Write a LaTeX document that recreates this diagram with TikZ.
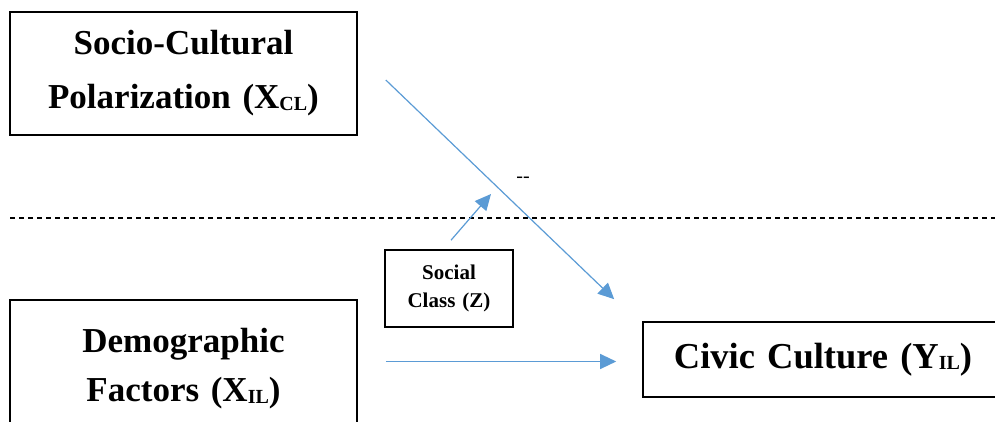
\documentclass[tikz,border=0pt]{standalone}
\usepackage{fontspec}
\setmainfont{Liberation Serif}
\usepackage{xcolor}
\usepackage{tikz}
\usetikzlibrary{calc}
\usetikzlibrary{arrows.meta}
\definecolor{arrowblue}{RGB}{91,155,213}
\tikzstyle{varbox} = [draw=black, fill=white, line width=1.6pt,
rectangle, inner sep=0pt, align=center]
\tikzstyle{bigtext} = [font=\fontsize{35}{54}\selectfont\bfseries]
\tikzstyle{effect} = [draw=arrowblue, line width=1.2pt,
-{Triangle[length=16pt,width=15pt]}]
\newcommand{\lowsub}[1]{\raisebox{-1.5pt}{\fontsize{20}{20}\selectfont #1}}

\begin{document}
\begin{tikzpicture}[x=1pt,y=1pt]
        \useasboundingbox (0,0) rectangle (995,421);
        % level divider
        \coordinate (divl) at (10,203);
        \coordinate (divr) at (995,203);
        \draw[dash pattern=on 5pt off 4pt, line width=1.1pt] (divl) -- (divr);
        % variables
        \node [varbox, bigtext, minimum width=347pt, minimum height=123pt, text width=340pt] (polar) at (183.5,347.5)
            {Socio-Cultural\\Polarization (X\lowsub{CL})};
        \node [varbox, minimum width=347pt, minimum height=138pt, text width=340pt,
            font=\fontsize{35}{49}\selectfont\bfseries] (demo) at (183.5,52)
            {Demographic\\Factors (X\lowsub{IL})};
        \node [varbox, minimum width=360pt, minimum height=75pt, text width=350pt,
            font=\fontsize{36.5}{54}\selectfont\bfseries] (civic) at (823,61.5)
            {Civic Culture (Y\lowsub{IL})};
        \node [varbox, minimum width=128pt, minimum height=77pt, text width=120pt,
            font=\fontsize{21}{28}\selectfont\bfseries] (social) at (449,132.5)
            {Social\\Class (Z)};
        % paths
        \coordinate (a1s) at ($(polar.east)+(28,-6.5)$);
        \coordinate (a1e) at ($(civic.north west)+(-28,22)$);
        \coordinate (a2e) at ($(civic.west)+(-26,-2)$);
        \coordinate (a2s) at (a2e -| a1s);
        \coordinate (a3s) at ($(social.north)+(2,9)$);
        \coordinate (a3e) at (491,227);
        \draw[effect] (a1s) -- (a1e);
        \draw[effect] (a2s) -- (a2e);
        \draw[effect] (a3s) -- (a3e);
        \node[font=\fontsize{20}{20}\selectfont] (sign) at (523,241) {-{}-};
    \end{tikzpicture}
\end{document}
